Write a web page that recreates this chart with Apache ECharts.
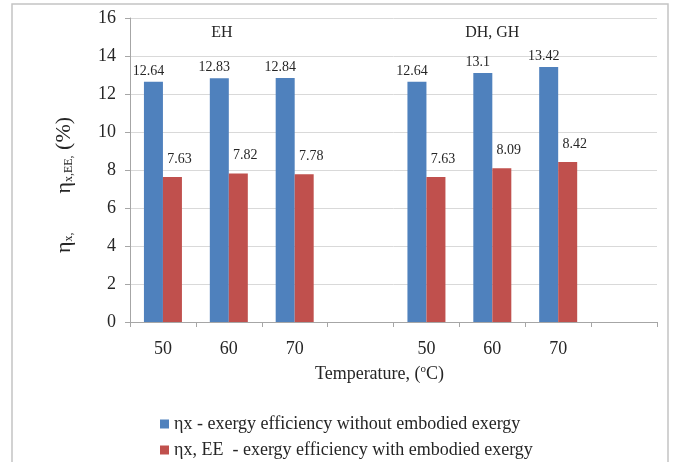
<!DOCTYPE html>
<html>
<head>
<meta charset="utf-8">
<script src="https://cdn.jsdelivr.net/npm/echarts@6/dist/echarts.min.js"></script>
<style>
html,body{margin:0;padding:0;background:#fff;}
#chart{width:675px;height:462px;}
</style>
</head>
<body>
<div id="chart"></div>
<script>
var categories = ['50', '60', '70', '', '50', '60', '70', ''];
var groupLabels = ['EH', 'DH, GH'];
var groupLabelCategoryIndex = [1, 5];
var seriesNames = ['ηx - exergy efficiency without embodied exergy', 'ηx, EE  - exergy efficiency with embodied exergy'];
var exergyNoEmbodied = [12.64, 12.83, 12.84, null, 12.64, 13.1, 13.42, null];
var exergyWithEmbodied = [7.63, 7.82, 7.78, null, 7.63, 8.09, 8.42, null];
var yTicks = { min: 0, max: 16, interval: 2 };

var FONT = '"Liberation Serif", "DejaVu Serif", serif';
var TXT = '#262626';
var chart = echarts.init(document.getElementById('chart'), null, { renderer: 'canvas' });

function legendFor(i, top) {
  return {
    orient: 'horizontal',
    left: 155,
    top: top,
    itemWidth: 9,
    itemHeight: 9,
    icon: 'rect',
    textStyle: { fontFamily: FONT, fontSize: 18, color: TXT },
    data: [seriesNames[i]]
  };
}

var option = {
  backgroundColor: '#ffffff',
  animation: false,
  textStyle: { fontFamily: FONT, color: TXT },
  grid: { left: 130, right: 18, top: 18, bottom: 140, containLabel: false },
  legend: [legendFor(0, 410), legendFor(1, 436)],
  xAxis: {
    type: 'category',
    data: categories,
    boundaryGap: true,
    axisLine: { lineStyle: { color: '#a6a6a6', width: 1 } },
    axisTick: { show: true, alignWithLabel: false, length: 5, inside: false, lineStyle: { color: '#a6a6a6' } },
    axisLabel: { fontFamily: FONT, fontSize: 18, color: TXT, margin: 18, interval: 0 },
    name: '{t|Temperature, (}{sup|o}{t|C)}',
    nameLocation: 'middle',
    nameGap: 42,
    nameTextStyle: {
      padding: [0, 28, 0, 0],
      rich: {
        t: { fontFamily: FONT, fontSize: 18, color: TXT, lineHeight: 20 },
        sup: { fontFamily: FONT, fontSize: 11, color: TXT, verticalAlign: 'top', lineHeight: 12 }
      }
    }
  },
  yAxis: {
    type: 'value',
    min: yTicks.min,
    max: yTicks.max,
    interval: yTicks.interval,
    axisLine: { show: true, lineStyle: { color: '#a6a6a6', width: 1 } },
    axisTick: { show: true, length: 5, inside: false, lineStyle: { color: '#a6a6a6' } },
    splitLine: { show: true, lineStyle: { color: '#d9d9d9', width: 1 } },
    axisLabel: { fontFamily: FONT, fontSize: 18, color: TXT, margin: 14 },
    name: '{e|η}{s|x,}{sp|             }{e|η}{s|x,EE,}{e| (%)}',
    nameLocation: 'middle',
    nameRotate: 90,
    nameGap: 55,
    nameTextStyle: {
      padding: [0, 30, 0, 0],
      rich: {
        e: { fontFamily: FONT, fontSize: 22, color: TXT, lineHeight: 22 },
        s: { fontFamily: FONT, fontSize: 12, color: TXT, verticalAlign: 'bottom', lineHeight: 16 },
        sp: { fontFamily: FONT, fontSize: 12, lineHeight: 12 }
      }
    }
  },
  series: [
    {
      name: seriesNames[0],
      type: 'bar',
      data: exergyNoEmbodied,
      barWidth: 19,
      barGap: '0%',
      itemStyle: { color: '#4f81bd' },
      label: {
        show: true,
        position: 'top',
        distance: 4,
        offset: [-5, 0],
        fontFamily: FONT,
        fontSize: 14,
        color: TXT
      }
    },
    {
      name: seriesNames[1],
      type: 'bar',
      data: exergyWithEmbodied,
      barWidth: 19,
      barGap: '0%',
      itemStyle: { color: '#c0504d' },
      label: {
        show: true,
        position: 'top',
        distance: 11,
        offset: [7, 0],
        fontFamily: FONT,
        fontSize: 14,
        color: TXT
      }
    }
  ]
};
chart.setOption(option);

var graphics = [
  {
    type: 'rect',
    shape: { x: 12, y: 4, width: 656, height: 470 },
    style: { fill: 'none', stroke: '#c4c4c4', lineWidth: 1.5 },
    silent: true,
    z: -10
  }
];
groupLabels.forEach(function (g, i) {
  var p = chart.convertToPixel({ gridIndex: 0 }, [groupLabelCategoryIndex[i], 15.2]);
  graphics.push({
    type: 'text',
    x: p[0] + (i === 0 ? -7 : 0),
    y: p[1],
    style: {
      text: g,
      fontFamily: FONT,
      fontSize: 16,
      fill: TXT,
      align: 'center',
      verticalAlign: 'middle'
    },
    z: 10
  });
});
chart.setOption({ graphic: graphics });
</script>
</body>
</html>
